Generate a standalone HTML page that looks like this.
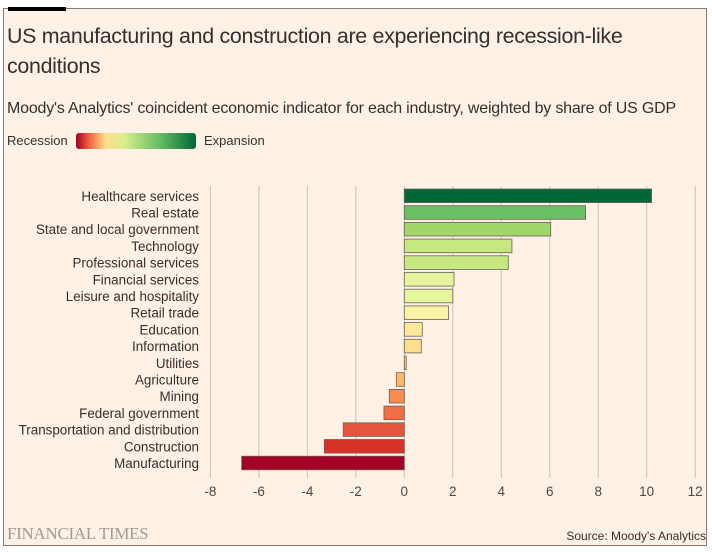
<!DOCTYPE html>
<html><head><meta charset="utf-8">
<style>
body{margin:0;background:#fff;font-family:"Liberation Sans",sans-serif;}
#wrap{position:relative;width:712px;height:552px;background:#fff;overflow:hidden;}
#card{position:absolute;left:3px;top:8px;width:704px;height:538px;background:#fff1e5;border:1.5px solid #857b72;box-sizing:border-box;}
.t{position:absolute;color:#33302e;white-space:nowrap;}
</style></head>
<body>
<div id="wrap">
<div id="card"></div>
<div style="position:absolute;left:8px;top:7px;width:58px;height:4px;background:#000;"></div>
<div class="t" style="left:7px;top:21px;font-size:21.4px;line-height:30px;letter-spacing:-0.3px;">US manufacturing and construction are experiencing recession-like<br>conditions</div>
<div class="t" style="left:7px;top:100px;font-size:16px;letter-spacing:-0.2px;">Moody's Analytics' coincident economic indicator for each industry, weighted by share of US GDP</div>
<div class="t" style="left:7px;top:133px;font-size:13px;">Recession</div>
<div style="position:absolute;left:76px;top:133px;width:120px;height:16px;border-radius:3px;background:linear-gradient(to right,#a50026,#f46d43 12%,#fee08b 25%,#d9ef8b 40%,#66bd63 70%,#006837);"></div>
<div class="t" style="left:204px;top:133px;font-size:13px;">Expansion</div>
<svg id="chart" width="712" height="552" style="position:absolute;left:0;top:0"></svg>
<div class="t" style="left:7px;top:524px;font-family:'Liberation Serif',serif;font-size:17px;color:#a49a92;letter-spacing:-0.3px;">FINANCIAL TIMES</div>
<div class="t" style="right:6px;top:529px;font-size:12px;">Source: Moody's Analytics</div>
</div>
<script>
const categories=["Healthcare services","Real estate","State and local government","Technology","Professional services","Financial services","Leisure and hospitality","Retail trade","Education","Information","Utilities","Agriculture","Mining","Federal government","Transportation and distribution","Construction","Manufacturing"];
const values=[10.2,7.48,6.04,4.44,4.29,2.05,2.0,1.82,0.74,0.70,0.08,-0.33,-0.62,-0.84,-2.52,-3.3,-6.71];
const colors=["#006837","#6abf62","#a1d76a","#c7e77f","#c7e77f","#e6f5a0","#e6f5a0","#fbf3a6","#fee99a","#fee08b","#fdcf78","#fdb863","#f88d52","#f06e43","#e4563b","#d63328","#a50026"];
const ticks=[-8,-6,-4,-2,0,2,4,6,8,10,12];
const NS="http://www.w3.org/2000/svg";
const svg=document.getElementById('chart');
function xs(v){return 404.3+v*24.24;}
function ys(i){return 189+i*16.7;}
const bh=13.6;
function mk(tag,attrs){const e=document.createElementNS(NS,tag);for(const k in attrs)e.setAttribute(k,attrs[k]);svg.appendChild(e);return e;}
ticks.forEach(t=>{
  const g=mk('line',{x1:xs(t),x2:xs(t),y1:186,y2:478,stroke:'#ccc1b7','stroke-width':1});
  
  
  const l=mk('text',{x:xs(t),y:496,'text-anchor':'middle','font-size':13.5,fill:'#4d4845','font-family':'Liberation Sans, sans-serif'});
  l.textContent=t;
  
  
});
categories.forEach((c,i)=>{
  const v=values[i];
  const r=mk('rect',{x:Math.min(xs(0),xs(v)),y:ys(i),width:Math.max(1.5,Math.abs(xs(v)-xs(0))),height:bh,fill:colors[i],stroke:'#6b6259','stroke-width':0.8});
  
  
  const l=mk('text',{x:199,y:ys(i)+bh/2+5,'text-anchor':'end','font-size':13.4,fill:'#33302e','font-family':'Liberation Sans, sans-serif'});
  l.textContent=c;
  
  
});
</script>
</body></html>
